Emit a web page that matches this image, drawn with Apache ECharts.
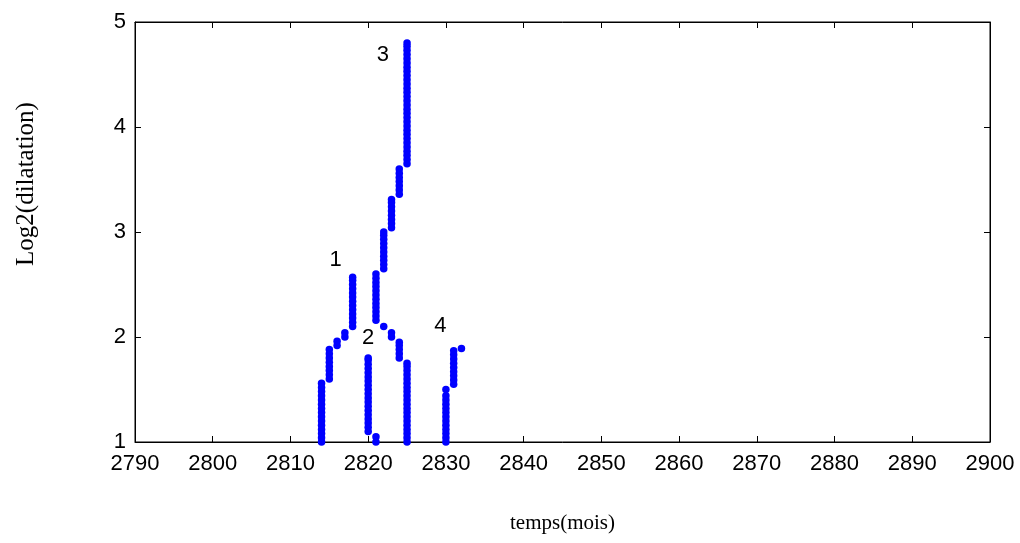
<!DOCTYPE html>
<html>
<head>
<meta charset="utf-8">
<script src="https://cdn.jsdelivr.net/npm/echarts@6/dist/echarts.min.js"></script>
<style>
  html, body { margin: 0; padding: 0; background: #fff; }
  #chart { width: 1020px; height: 543px; }
</style>
</head>
<body>
<div id="chart"></div>
<script>
// Modulus-maxima chains: each column is [month, log2 dilations at that month]
const ridge1 = [
  [2814, [1.00, 1.04, 1.08, 1.12, 1.16, 1.20, 1.24, 1.28, 1.32, 1.36, 1.40, 1.44, 1.48, 1.52, 1.56]],
  [2815, [1.60, 1.64, 1.68, 1.72, 1.76, 1.80, 1.84, 1.88]],
  [2816, [1.92, 1.96]],
  [2817, [2.00, 2.04]],
  [2818, [2.10, 2.14, 2.18, 2.22, 2.26, 2.30, 2.34, 2.38, 2.42, 2.46, 2.50, 2.54, 2.57]]
];
const ridge2 = [
  [2820, [1.10, 1.14, 1.18, 1.22, 1.26, 1.30, 1.34, 1.38, 1.42, 1.46, 1.50, 1.54, 1.58, 1.62, 1.66, 1.70, 1.74, 1.78, 1.80]],
  [2821, [1.00, 1.05]]
];
const ridge3 = [
  [2821, [2.16, 2.20, 2.24, 2.28, 2.32, 2.36, 2.40, 2.44, 2.48, 2.52, 2.56, 2.60]],
  [2822, [2.65, 2.69, 2.73, 2.77, 2.81, 2.85, 2.89, 2.93, 2.97, 3.00]],
  [2823, [3.04, 3.08, 3.12, 3.16, 3.20, 3.24, 3.28, 3.31]],
  [2824, [3.36, 3.40, 3.44, 3.48, 3.52, 3.56, 3.60]],
  [2825, [3.65, 3.69, 3.73, 3.77, 3.81, 3.85, 3.89, 3.93, 3.97, 4.01, 4.05, 4.09, 4.13, 4.17, 4.21,
          4.25, 4.29, 4.33, 4.37, 4.41, 4.45, 4.49, 4.53, 4.57, 4.61, 4.65, 4.69, 4.73, 4.77, 4.80]]
];
const branch3 = [
  [2822, [2.10]],
  [2823, [2.00, 2.04]],
  [2824, [1.80, 1.84, 1.88, 1.92, 1.95]],
  [2825, [1.00, 1.04, 1.08, 1.12, 1.16, 1.20, 1.24, 1.28, 1.32, 1.36, 1.40, 1.44, 1.48, 1.52, 1.56,
          1.60, 1.64, 1.68, 1.72, 1.75]]
];
const ridge4 = [
  [2830, [1.00, 1.04, 1.08, 1.12, 1.16, 1.20, 1.24, 1.28, 1.32, 1.36, 1.40, 1.44, 1.50]],
  [2831, [1.55, 1.59, 1.63, 1.67, 1.71, 1.75, 1.79, 1.83, 1.87]],
  [2832, [1.89]]
];

// Chain numbers written beside the chains
const chainNames = ['1', '2', '3', '4'];
const chainNameX = [2815.8, 2820.0, 2821.9, 2829.3];
const chainNameY = [2.73, 1.99, 4.69, 2.11];

// Axis ticks
const xTicks = [2790, 2800, 2810, 2820, 2830, 2840, 2850, 2860, 2870, 2880, 2890, 2900];
const yTicks = [1, 2, 3, 4, 5];

function toPoints(chain) {
  const pts = [];
  chain.forEach(([m, ys]) => ys.forEach(y => pts.push([m, y])));
  return pts;
}
const allPoints = [ridge1, ridge2, ridge3, branch3, ridge4].map(toPoints).flat();

const sans = 'Liberation Sans, Arial, sans-serif';
const serif = 'Liberation Serif, Times New Roman, serif';
const xMin = xTicks[0], xMax = xTicks[xTicks.length - 1];
const yMin = yTicks[0], yMax = yTicks[yTicks.length - 1];

const chart = echarts.init(document.getElementById('chart'));
chart.setOption({
  animation: false,
  backgroundColor: '#fff',
  grid: { left: 135, right: 30, top: 22, bottom: 101, show: true, borderColor: '#000', borderWidth: 1, backgroundColor: 'transparent' },
  xAxis: [{
    type: 'value', min: xMin, max: xMax, interval: 10,
    name: 'temps(mois)', nameLocation: 'middle', nameGap: 71,
    nameTextStyle: { fontFamily: serif, fontSize: 21, color: '#000' },
    axisLine: { show: true, lineStyle: { color: '#000', width: 1 } },
    axisTick: { show: true, inside: true, length: 6, lineStyle: { color: '#000' } },
    axisLabel: { fontFamily: sans, fontSize: 22, color: '#000', margin: 11, formatter: v => String(v) },
    splitLine: { show: false }
  }, {
    type: 'value', position: 'top', min: xMin, max: xMax, interval: 10,
    axisLine: { show: true, lineStyle: { color: '#000', width: 1 } },
    axisTick: { show: true, inside: true, length: 6, lineStyle: { color: '#000' } },
    axisLabel: { show: false }, splitLine: { show: false }
  }],
  yAxis: [{
    type: 'value', min: yMin, max: yMax, interval: 1,
    axisLine: { show: true, lineStyle: { color: '#000', width: 1 } },
    axisTick: { show: true, inside: true, length: 6, lineStyle: { color: '#000' } },
    axisLabel: { fontFamily: sans, fontSize: 22, color: '#000', margin: 9 },
    splitLine: { show: false }
  }, {
    type: 'value', position: 'right', min: yMin, max: yMax, interval: 1,
    axisLine: { show: true, lineStyle: { color: '#000', width: 1 } },
    axisTick: { show: true, inside: true, length: 6, lineStyle: { color: '#000' } },
    axisLabel: { show: false }, splitLine: { show: false }
  }],
  graphic: [{
    type: 'text', x: 26, y: 184, rotation: Math.PI / 2,
    style: {
      text: 'Log2(dilatation)', fontFamily: serif, fontSize: 25, fill: '#000',
      align: 'center', verticalAlign: 'middle'
    }
  }],
  series: [{
    type: 'scatter',
    data: allPoints,
    symbol: 'circle', symbolSize: 7.5,
    itemStyle: { color: '#0000ff', opacity: 1 },
    silent: true
  }, {
    type: 'scatter',
    data: chainNames.map((n, i) => ({ value: [chainNameX[i], chainNameY[i]], name: n })),
    symbolSize: 0,
    itemStyle: { opacity: 1 },
    label: {
      show: true, position: 'inside', formatter: p => p.name,
      fontFamily: sans, fontSize: 22, color: '#000'
    },
    silent: true
  }]
});
</script>
</body>
</html>
